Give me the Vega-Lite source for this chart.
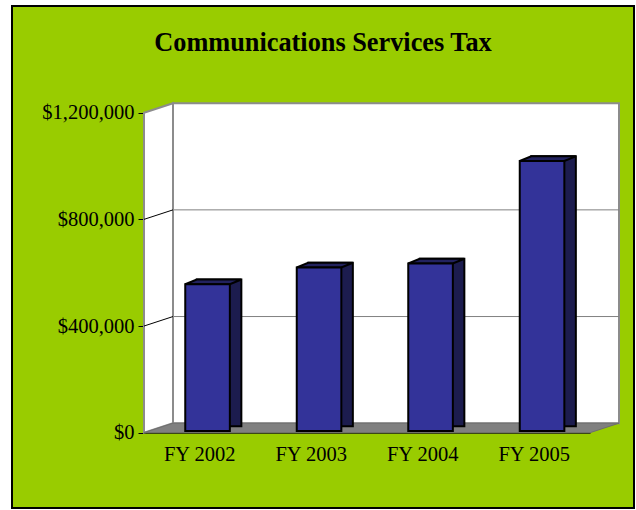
{
  "$schema": "https://vega.github.io/schema/vega-lite/v6.json",
  "width": 622,
  "height": 502,
  "autosize": "none",
  "padding": {"left": 12, "top": 6, "right": 2, "bottom": 2},
  "background": "white",
  "config": {
    "view": {"fill": "#99CC00", "stroke": "black", "strokeWidth": 2},
    "font": "Liberation Serif",
    "axisY": {"offset": -132, "zindex": 1, "domainColor": "black", "domainWidth": 1, "tickColor": "black", "tickSize": 6, "tickWidth": 1, "labelFont": "Liberation Serif", "labelFontSize": 20.5, "labelColor": "black", "labelPadding": 4, "grid": false},
    "axisX": {"offset": -75.3, "zindex": 1, "domainColor": "black", "domainWidth": 1, "ticks": false, "labelFont": "Liberation Serif", "labelFontSize": 20.5, "labelColor": "black", "labelPadding": 12, "labelAngle": 0, "grid": false}
  },
  "title": {"text": "Communications Services Tax", "font": "Liberation Serif", "fontSize": 26.3, "fontWeight": "bold", "color": "black", "anchor": "middle", "offset": -50},
  "datasets": {
    "bars": [
      {"year": "FY 2002", "tax": 550000},
      {"year": "FY 2003", "tax": 613000},
      {"year": "FY 2004", "tax": 628000},
      {"year": "FY 2005", "tax": 1012000}
    ],
    "ticks": [
      {"v": 400000},
      {"v": 800000}
    ]
  },
  "layer": [
    {
      "data": {"values": [{}]},
      "mark": {"type": "rect", "fill": "white", "stroke": "#8c8c8c", "strokeWidth": 2, "xOffset": 29, "x2Offset": 29, "yOffset": -9.5, "y2Offset": -9.5},
      "encoding": {
        "x": {"datum": 0, "type": "quantitative", "scale": {"domain": [0, 1], "range": [132, 578], "nice": false, "zero": false}, "axis": null},
        "x2": {"datum": 1},
        "y": {"datum": 0, "type": "quantitative", "scale": {"domain": [0, 1200000], "range": [426.7, 106.7], "nice": false}, "axis": {"title": null, "values": [0, 400000, 800000, 1200000], "format": "$,.0f"}},
        "y2": {"datum": 1200000}
      }
    },
    {
      "data": {"name": "ticks"},
      "mark": {"type": "rule", "color": "#808080", "strokeWidth": 1, "xOffset": 29, "x2Offset": 29, "yOffset": -9.5},
      "encoding": {
        "x": {"datum": 0, "type": "quantitative", "scale": {"domain": [0, 1], "range": [132, 578], "nice": false, "zero": false}, "axis": null},
        "x2": {"datum": 1},
        "y": {"field": "v", "type": "quantitative", "axis": {"title": null, "values": [0, 400000, 800000, 1200000], "format": "$,.0f"}}
      }
    },
    {
      "data": {"values": [{}]},
      "mark": {"type": "point", "shape": "M0,0 L0,-320 L29,-329.5 L29,-9.5 Z", "size": 4, "filled": true, "opacity": 1, "fill": "white", "stroke": "#8c8c8c", "strokeWidth": 2},
      "encoding": {
        "x": {"datum": 0, "type": "quantitative", "scale": {"domain": [0, 1], "range": [132, 578], "nice": false, "zero": false}, "axis": null},
        "y": {"datum": 0, "type": "quantitative", "axis": {"title": null, "values": [0, 400000, 800000, 1200000], "format": "$,.0f"}}
      }
    },
    {
      "data": {"name": "ticks"},
      "mark": {"type": "rule", "color": "black", "strokeWidth": 1, "x2Offset": 29, "y2Offset": -9.5},
      "encoding": {
        "x": {"datum": 0, "type": "quantitative", "scale": {"domain": [0, 1], "range": [132, 578], "nice": false, "zero": false}, "axis": null},
        "x2": {"datum": 0},
        "y": {"field": "v", "type": "quantitative", "axis": {"title": null, "values": [0, 400000, 800000, 1200000], "format": "$,.0f"}},
        "y2": {"field": "v"}
      }
    },
    {
      "data": {"values": [{}]},
      "mark": {"type": "point", "shape": "M0,0 L446,0 L475,-9.5 L29,-9.5 Z", "size": 4, "filled": true, "opacity": 1, "fill": "#808080", "stroke": "#6e6e6e", "strokeWidth": 1},
      "encoding": {
        "x": {"datum": 0, "type": "quantitative", "scale": {"domain": [0, 1], "range": [132, 578], "nice": false, "zero": false}, "axis": null},
        "y": {"datum": 0, "type": "quantitative", "axis": {"title": null, "values": [0, 400000, 800000, 1200000], "format": "$,.0f"}}
      }
    },
    {
      "data": {"name": "bars"},
      "mark": {"type": "bar", "fill": "#1c1c4e", "stroke": "black", "strokeWidth": 2, "xOffset": 19.3, "yOffset": -6.5, "y2Offset": -6.5},
      "encoding": {
        "x": {"field": "year", "type": "nominal", "scale": {"range": [132, 578], "paddingInner": 0.6, "paddingOuter": 0.3}, "axis": null},
        "y": {"field": "tax", "type": "quantitative", "axis": {"title": null, "values": [0, 400000, 800000, 1200000], "format": "$,.0f"}}
      }
    },
    {
      "data": {"name": "bars"},
      "mark": {"type": "point", "shape": "M-22.3,0 L-10.8,-4.7 L33.8,-4.7 L22.3,0 Z", "size": 4, "filled": true, "opacity": 1, "fill": "#22225e", "stroke": "black", "strokeWidth": 2, "xOffset": 7.8, "yOffset": -1.8},
      "encoding": {
        "x": {"field": "year", "type": "nominal", "scale": {"range": [132, 578], "paddingInner": 0.6, "paddingOuter": 0.3}, "axis": null},
        "y": {"field": "tax", "type": "quantitative", "axis": {"title": null, "values": [0, 400000, 800000, 1200000], "format": "$,.0f"}}
      }
    },
    {
      "data": {"name": "bars"},
      "mark": {"type": "bar", "fill": "#333399", "stroke": "black", "strokeWidth": 2, "xOffset": 7.8, "yOffset": -1.8, "y2Offset": -1.8},
      "encoding": {
        "x": {"field": "year", "type": "nominal", "scale": {"range": [132, 578], "paddingInner": 0.6, "paddingOuter": 0.3}, "axis": {"title": null}},
        "y": {"field": "tax", "type": "quantitative", "axis": {"title": null, "values": [0, 400000, 800000, 1200000], "format": "$,.0f"}}
      }
    }
  ],
  "resolve": {"scale": {"x": "independent"}}
}
